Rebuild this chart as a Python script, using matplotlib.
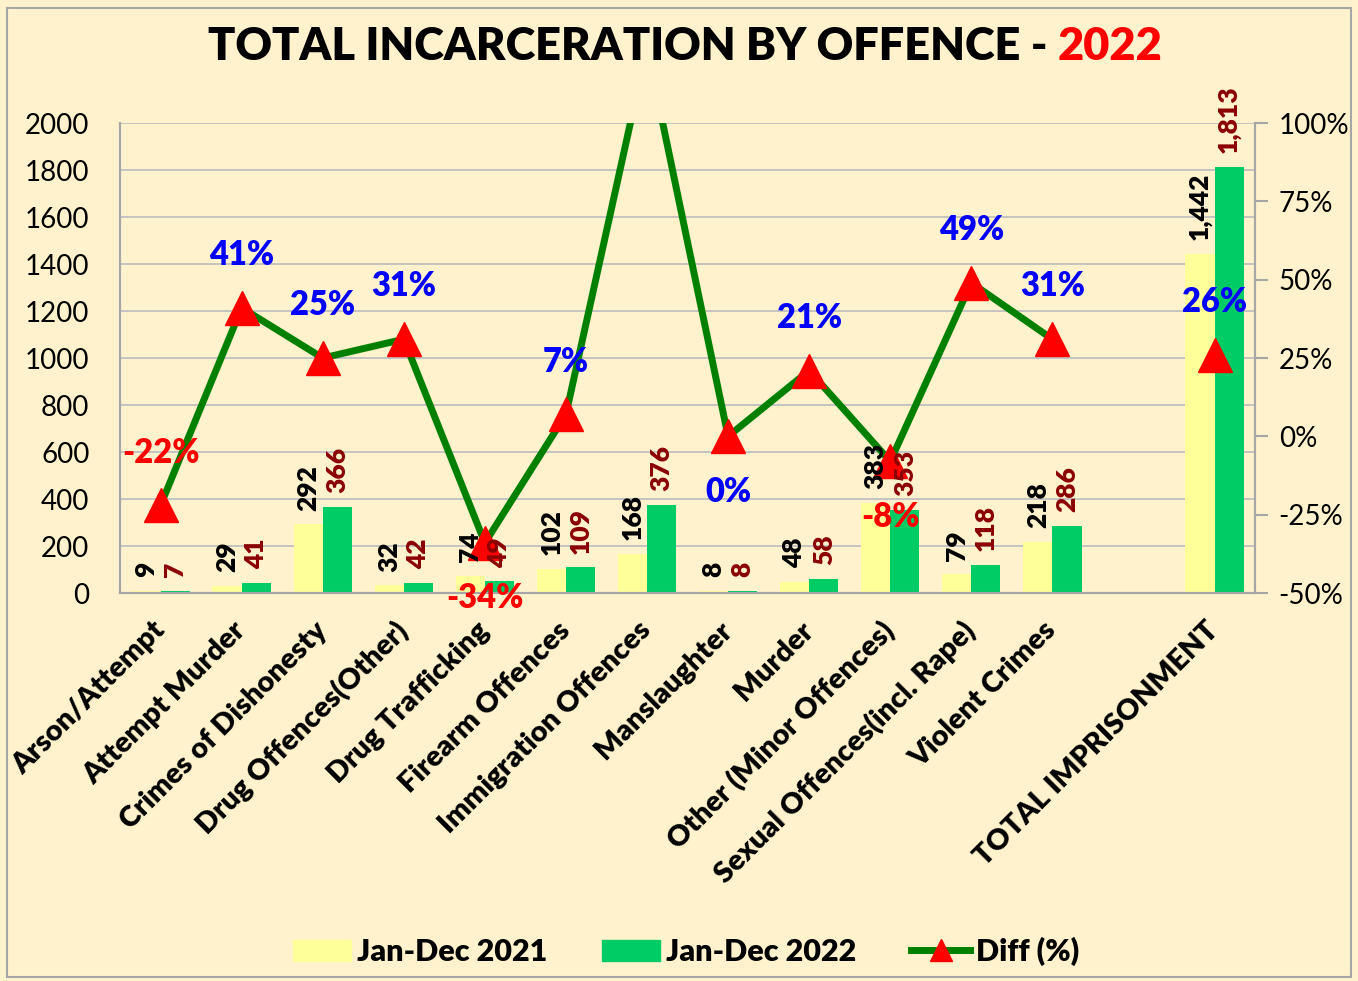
import numpy as np
import matplotlib
matplotlib.use("Agg")
import matplotlib.pyplot as plt
from matplotlib.lines import Line2D
from matplotlib.patches import Patch, Rectangle

plt.rcParams['font.family'] = ['Lato', 'DejaVu Sans']
plt.rcParams['font.weight'] = 'bold'

# data
categories = ["Arson/Attempt", "Attempt Murder", "Crimes of Dishonesty",
              "Drug Offences(Other)", "Drug Trafficking", "Firearm Offences",
              "Immigration Offences", "Manslaughter", "Murder",
              "Other (Minor Offences)", "Sexual Offences(incl. Rape)",
              "Violent Crimes", "", "TOTAL IMPRISONMENT"]
jan_dec_2021 = [9, 29, 292, 32, 74, 102, 168, 8, 48, 383, 79, 218, np.nan, 1442]
jan_dec_2022 = [7, 41, 366, 42, 49, 109, 376, 8, 58, 353, 118, 286, np.nan, 1813]
diff_pct = [-22, 41, 25, 31, -34, 7, 124, 0, 21, -8, 49, 31, np.nan, 26]
# where the % label sits relative to the marker
diff_label_pos = ["up", "up", "up", "up", "down", "up", None, "down", "up",
                  "down", "up", "up", None, "up"]

bg = "#FFF2CC"
heavy = "heavy"
fig = plt.figure(figsize=(13.58, 9.81), dpi=100, facecolor=bg)
fig.patches.append(Rectangle((0.005, 0.004), 0.99, 0.988, transform=fig.transFigure,
                             fill=False, edgecolor="#A6A6A6", lw=1.5))

ax = fig.add_axes([0.0884, 0.3955, 0.8358, 0.4791])
ax.set_facecolor(bg)
x = np.arange(len(categories))
w = 0.36
ax.bar(x - w/2, jan_dec_2021, w, color="#FFFF99", zorder=2)
ax.bar(x + w/2, jan_dec_2022, w, color="#00CC66", zorder=2)

ax.set_ylim(0, 2000)
ax.set_yticks(range(0, 2001, 200))
ax.set_xlim(-0.5, len(categories) - 0.5)
ax.grid(axis="y", color="#C0C0C0", lw=1.3, zorder=0)
ax.set_axisbelow(True)
ax.tick_params(axis="y", length=0, pad=22, labelsize=20)
ax.set_xticks(x)
ax.set_xticklabels(categories, rotation=45, ha="right", va="center",
                   rotation_mode="anchor", fontsize=21, fontweight=heavy)
ax.tick_params(axis="x", length=0, pad=24)
for lab in ax.get_yticklabels():
    lab.set_fontweight("normal")
for s in ["left", "bottom", "right", "top"]:
    ax.spines[s].set_color("#A6A6A6")
    ax.spines[s].set_linewidth(1.5)
ax.spines["top"].set_visible(False)

ax2 = ax.twinx()
ax2.plot(x, np.array(diff_pct) / 100, color="#008000", lw=5, marker="^",
         markersize=24, markerfacecolor="red", markeredgecolor="red", zorder=4)
ax2.set_ylim(-0.5, 1.0)
ax2.set_yticks(np.arange(-0.5, 1.01, 0.25))
ax2.set_yticklabels([f"{int(round(t*100))}%" for t in np.arange(-0.5, 1.01, 0.25)],
                    fontsize=20, fontweight="normal")
ax2.tick_params(axis="y", length=9, width=1.5, color="#A6A6A6", pad=8)
for s in ["left", "bottom", "right", "top"]:
    ax2.spines[s].set_color("#A6A6A6")
    ax2.spines[s].set_linewidth(1.5)
ax2.spines["top"].set_visible(False)

# bar value labels drawn on top of the line
for xi, v in zip(x, jan_dec_2021):
    if np.isnan(v):
        continue
    ax2.annotate(f"{int(v):,}", (xi - w/2, v), xycoords=ax.transData,
                 xytext=(0, 10), textcoords="offset points",
                 rotation=90, ha="center", va="bottom", fontsize=19, color="black",
                 fontweight=heavy, zorder=5)
for xi, v in zip(x, jan_dec_2022):
    if np.isnan(v):
        continue
    ax2.annotate(f"{int(v):,}", (xi + w/2, v), xycoords=ax.transData,
                 xytext=(0, 10), textcoords="offset points",
                 rotation=90, ha="center", va="bottom", fontsize=19, color="#8B0000",
                 fontweight=heavy, zorder=5, annotation_clip=False)

for xi, d, pos in zip(x, diff_pct, diff_label_pos):
    if pos is None:
        continue
    col = "red" if d < 0 else "blue"
    dy = 38 if pos == "up" else -40
    ax2.annotate(f"{int(d)}%", (xi, d / 100), xytext=(0, dy), textcoords="offset points",
                 ha="center", va="center", fontsize=23.5, color=col, fontweight=heavy,
                 zorder=6, annotation_clip=False)

t = fig.text(0.5, 0.953, "TOTAL INCARCERATION BY OFFENCE - ", ha="right", va="center",
             fontsize=32.5, fontweight=heavy, color="black")
yr = fig.text(0.5, 0.953, "2022", ha="left", va="center", fontsize=32.5,
              fontweight=heavy, color="red")
fig.canvas.draw()
full_w = t.get_window_extent().width
yw = yr.get_window_extent().width
left_px = (1358 - full_w - yw) / 2 + 6
t.set_position(((left_px + full_w) / 1358, 0.953))
yr.set_position(((left_px + full_w) / 1358, 0.953))

handles = [Patch(color="#FFFF99", label="Jan-Dec 2021"),
           Patch(color="#00CC66", label="Jan-Dec 2022"),
           Line2D([0], [0], color="#008000", lw=5, marker="^", markersize=16,
                  markerfacecolor="red", markeredgecolor="red", label="Diff (%)")]
fig.legend(handles=handles, loc="center", bbox_to_anchor=(0.505, 0.03), ncol=3,
           frameon=False, prop={"weight": heavy, "size": 22},
           handlelength=1.9, handletextpad=0.2, columnspacing=1.8)

fig.savefig("out.png", dpi=100, facecolor=bg)
